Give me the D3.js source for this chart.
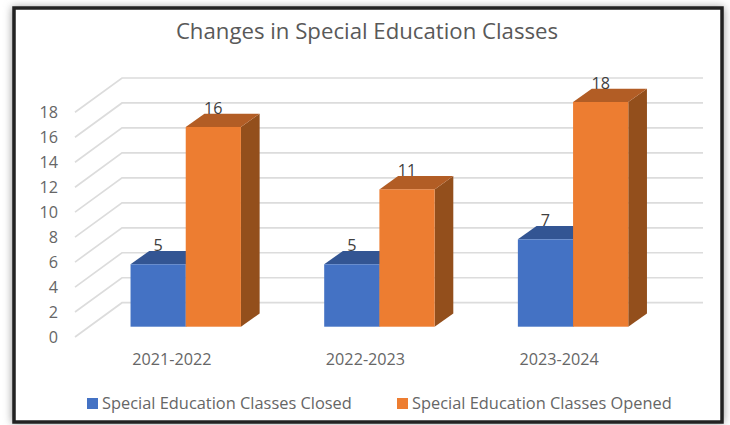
<!DOCTYPE html>
<html>
<head>
<meta charset="utf-8">
<script src="https://cdn.jsdelivr.net/npm/d3@7"></script>
<style>
	html, body { margin: 0; padding: 0; background: #fff; }
	svg { display: block; }
	text { font-family: "Open Sans", sans-serif; }
</style>
</head>
<body>
<script>
var title = 'Changes in Special Education Classes';
var categories = ['2021-2022', '2022-2023', '2023-2024'];
var closedValues = [5, 5, 7];
var openedValues = [16, 11, 18];
var yTicks = [0, 2, 4, 6, 8, 10, 12, 14, 16, 18];
var seriesNames = ['Special Education Classes Closed', 'Special Education Classes Opened'];

var width = 730, height = 425;

var svg = d3.select('body').append('svg')
	.attr('width', width)
	.attr('height', height);

//Soft shadow round the frame.
var blur = svg.append('defs').append('filter')
	.attr('id', 'frameShadow')
	.attr('x', '-5%').attr('y', '-5%')
	.attr('width', '110%').attr('height', '110%');
blur.append('feGaussianBlur').attr('stdDeviation', 4);

svg.append('rect')
	.attr('x', 12).attr('y', 7)
	.attr('width', 712).attr('height', 416)
	.attr('fill', '#999')
	.attr('filter', 'url(#frameShadow)');

svg.append('rect')
	.attr('x', 14).attr('y', 8)
	.attr('width', 708).attr('height', 414)
	.attr('fill', '#fff')
	.attr('stroke', '#222')
	.attr('stroke-width', 3.5);

//Floor of the box: front edge of the walls, back edge and bar base.
var frontFloor = 337, backFloor = 302.7, barFloor = 326.7;
var wallDx = 47, barDx = 18.7, barDy = 13.3;
var barWidth = 55.2;

var x = d3.scaleBand().domain(categories).range([75, 656]);
var h = d3.scaleLinear().domain([0, 18]).range([0, 224.7]);

//Gridlines on the side wall and back wall.
var grid = svg.append('g').attr('fill', 'none').attr('stroke', '#dcdcdc').attr('stroke-width', 1.7);
yTicks.forEach(function(t){
	var p = d3.path();
	p.moveTo(x.range()[0], frontFloor - h(t));
	p.lineTo(x.range()[0] + wallDx, backFloor - h(t));
	p.lineTo(x.range()[1] + wallDx, backFloor - h(t));
	grid.append('path').attr('d', p.toString());
});

//Tick labels.
svg.append('g').selectAll('text')
	.data(yTicks)
	.enter()
	.append('text')
	.attr('x', 58)
	.attr('y', function(d){ return frontFloor - h(d) + 5.5; })
	.attr('text-anchor', 'end')
	.attr('font-size', 16.2)
	.attr('fill', '#666')
	.text(function(d){ return d; });

svg.append('g').selectAll('text')
	.data(categories)
	.enter()
	.append('text')
	.attr('x', function(d){ return x(d) + x.bandwidth() / 2; })
	.attr('y', 365)
	.attr('text-anchor', 'middle')
	.attr('font-size', 16.2)
	.attr('fill', '#666')
	.text(function(d){ return d; });

//Draws one 3D bar: side, top, then front face.
function drawBar(group, left, value, colors){
	var top = barFloor - h(value);
	var right = left + barWidth;
	group.append('polygon')
		.attr('points', [[right, top], [right + barDx, top - barDy], [right + barDx, barFloor - barDy], [right, barFloor]].join(' '))
		.attr('fill', colors.side);
	group.append('polygon')
		.attr('points', [[left, top], [left + barDx, top - barDy], [right + barDx, top - barDy], [right, top]].join(' '))
		.attr('fill', colors.top);
	group.append('rect')
		.attr('x', left).attr('y', top)
		.attr('width', barWidth).attr('height', h(value))
		.attr('fill', colors.front);
	group.append('text')
		.attr('x', left + barWidth / 2)
		.attr('y', top - 13)
		.attr('text-anchor', 'middle')
		.attr('font-size', 16.2)
		.attr('fill', '#404040')
		.text(value);
}

var blue = {front: '#4472c4', top: '#335593', side: '#2a4a80'};
var orange = {front: '#ed7d31', top: '#b25d25', side: '#934f1c'};

var bars = svg.append('g');
categories.forEach(function(c, i){
	var left = x(c) + x.bandwidth() / 2 - 41.3;
	drawBar(bars, left, closedValues[i], blue);
	drawBar(bars, left + barWidth, openedValues[i], orange);
});

//Title.
svg.append('text')
	.attr('x', 367)
	.attr('y', 39)
	.attr('text-anchor', 'middle')
	.attr('font-size', 22.2)
	.attr('fill', '#595959')
	.text(title);

//Legend.
var legendX = [87, 397];
var legendColors = [blue.front, orange.front];
var legend = svg.append('g');
seriesNames.forEach(function(name, i){
	legend.append('rect')
		.attr('x', legendX[i]).attr('y', 398)
		.attr('width', 11).attr('height', 11)
		.attr('fill', legendColors[i]);
	legend.append('text')
		.attr('x', legendX[i] + 15)
		.attr('y', 409)
		.attr('font-size', 16.4)
		.attr('fill', '#666')
		.text(name);
});
</script>
</body>
</html>
